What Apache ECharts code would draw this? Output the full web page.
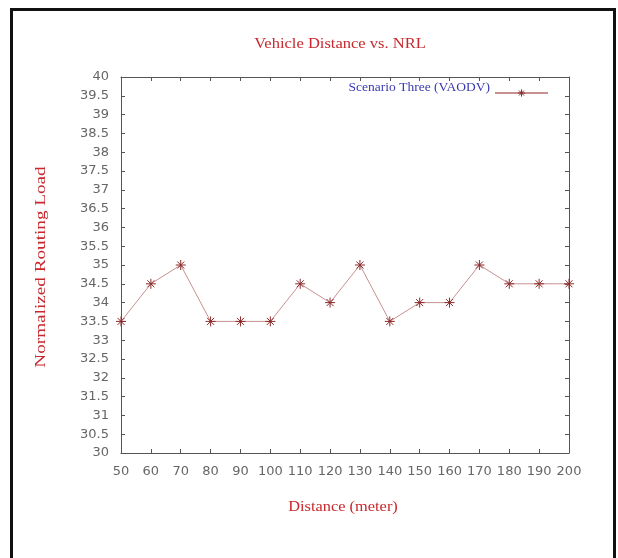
<!DOCTYPE html>
<html>
<head>
<meta charset="utf-8">
<script src="https://cdn.jsdelivr.net/npm/echarts@6/dist/echarts.min.js"></script>
<style>
html,body{margin:0;padding:0;background:#fff;}
#frame{position:absolute;left:10px;top:8px;width:606px;height:560px;border:3px solid #111;box-sizing:border-box;}
#chart{position:absolute;left:0;top:0;width:618px;height:558px;}
</style>
</head>
<body>
<div id="frame"></div>
<div id="chart"></div>
<script>
const distances = [50, 60, 70, 80, 90, 100, 110, 120, 130, 140, 150, 160, 170, 180, 190, 200];
const nrlVaodv = [33.5, 34.5, 35, 33.5, 33.5, 33.5, 34.5, 34, 35, 33.5, 34, 34, 35, 34.5, 34.5, 34.5];
const seriesName = 'Scenario Three (VAODV)';
const chartTitle = 'Vehicle Distance vs. NRL';
const xTitle = 'Distance (meter)';
const yTitle = 'Normalized Routing Load';

const chart = echarts.init(document.getElementById('chart'), null, {renderer: 'canvas'});
const axisCol = '#555';
const labelCol = '#666';
const redCol = '#c8282c';
const star = 'path://M0,5L10,5M5,0L5,10M1.5,1.5L8.5,8.5M8.5,1.5L1.5,8.5';
const tick = {show: true, inside: true, length: 4, lineStyle: {color: axisCol}};
const serifText = (text, x, y, size, sx, rot) => ({
  type: 'text', x: x, y: y, rotation: rot || 0, scaleX: sx, scaleY: 1, silent: true,
  style: {text: text, font: size + 'px "Liberation Serif"', fill: redCol, align: 'center', verticalAlign: 'middle'}
});
chart.setOption({
  animation: false,
  backgroundColor: 'transparent',
  graphic: [
    serifText(chartTitle, 340, 44, 14, 1.18),
    serifText(xTitle, 343, 507, 14, 1.17),
    serifText(yTitle, 41, 267, 14, 1.37, Math.PI / 2)
  ],
  legend: {
    top: 75, right: 64, align: 'right', itemWidth: 53, itemHeight: 9, itemGap: 4,
    formatter: name => name + '\n ',
    textStyle: {fontFamily: 'Liberation Serif', fontSize: 13.5, lineHeight: 12, color: '#3a3ab0'},
    itemStyle: {color: 'none', borderColor: '#8b2a2a', borderWidth: 1},
    data: [seriesName]
  },
  grid: {left: 121, top: 77, width: 448, height: 376, containLabel: false, show: false},
  xAxis: [{
    type: 'value', min: 50, max: 200, interval: 10,
    axisLine: {show: true, lineStyle: {color: axisCol}},
    axisTick: tick, splitLine: {show: false},
    axisLabel: {fontFamily: 'DejaVu Sans', fontSize: 13, color: labelCol, margin: 12}
  }, {
    type: 'value', position: 'top', min: 50, max: 200, interval: 10,
    axisLine: {show: true, lineStyle: {color: axisCol}},
    axisTick: tick, splitLine: {show: false}, axisLabel: {show: false}
  }],
  yAxis: [{
    type: 'value', min: 30, max: 40, interval: 0.5,
    axisLine: {show: true, lineStyle: {color: axisCol}},
    axisTick: tick, splitLine: {show: false},
    axisLabel: {fontFamily: 'DejaVu Sans', fontSize: 13, color: labelCol, margin: 12}
  }, {
    type: 'value', position: 'right', min: 30, max: 40, interval: 0.5,
    axisLine: {show: true, lineStyle: {color: axisCol}},
    axisTick: tick, splitLine: {show: false}, axisLabel: {show: false}
  }],
  series: [{
    name: seriesName, type: 'line',
    data: distances.map((d, i) => [d, nrlVaodv[i]]),
    symbol: star, symbolSize: 10,
    lineStyle: {color: '#c89090', width: 1},
    itemStyle: {color: 'none', borderColor: '#8b2a2a', borderWidth: 1}
  }]
});
</script>
</body>
</html>
